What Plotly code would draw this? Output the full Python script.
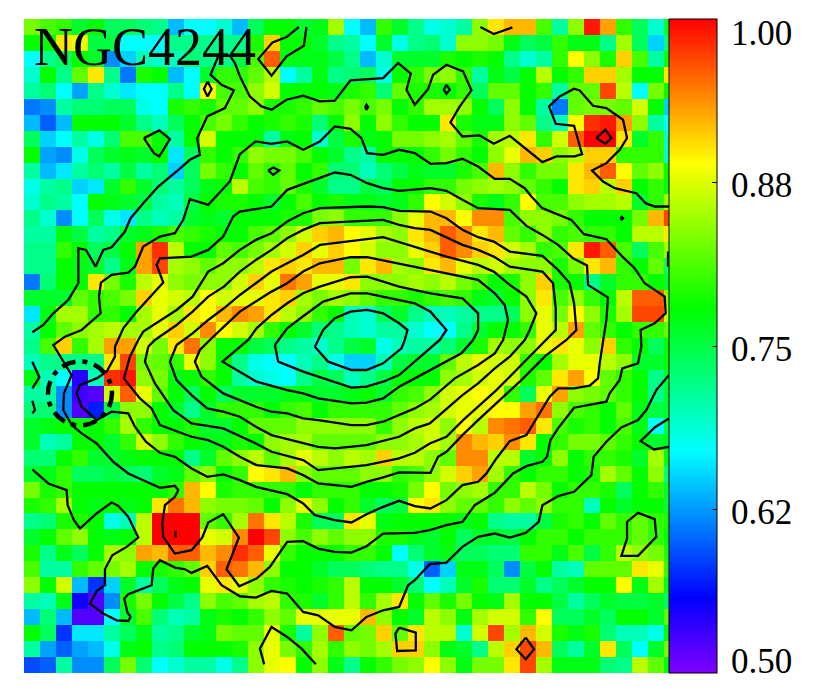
import plotly.graph_objects as go

# Map values in hundredths, row 0 at the top, 41 columns (the last is half cropped)
MAP_ROWS = [
[83,81,80,76,78,74,74,73,72,64,67,67,69,64,74,78,78,76,77,85,67,64,80,76,72,68,69,71,84,90,92,92,81,71,84,99,93,80,74,69,76],
[78,78,90,88,75,75,67,67,67,72,72,72,72,72,79,91,78,78,76,72,71,67,76,68,72,73,69,84,84,83,77,74,75,80,77,77,72,85,74,65,73],
[67,72,74,78,76,62,65,70,69,70,73,72,72,75,81,96,77,77,77,75,72,64,69,76,76,76,79,78,79,78,72,69,71,80,89,84,79,91,81,71,78],
[69,78,72,82,90,72,61,79,78,64,67,76,80,80,82,86,67,71,77,72,73,74,68,78,80,83,84,80,71,77,75,78,86,78,80,91,91,85,78,78,90],
[71,73,67,63,72,69,66,67,67,72,67,89,81,81,84,87,78,78,78,77,79,80,73,82,79,79,78,80,74,82,82,78,80,71,82,82,97,86,67,83,78],
[61,62,71,73,73,74,74,68,67,79,80,79,82,82,84,79,79,80,82,81,83,81,83,78,80,85,85,84,78,74,84,78,71,61,82,83,83,82,87,78,65],
[64,60,64,78,78,78,76,72,70,74,78,81,83,80,78,79,80,79,73,78,84,78,84,80,78,78,90,79,77,77,84,82,72,70,89,98,99,93,84,71,67],
[74,65,67,71,68,73,81,81,78,71,78,87,78,78,78,71,77,78,69,75,79,77,78,83,83,84,85,82,79,85,86,90,80,87,96,100,100,90,76,80,69],
[78,63,62,68,74,76,77,76,78,66,74,80,78,80,84,83,83,81,78,76,72,71,78,78,78,80,83,80,78,84,88,92,91,84,86,91,91,80,80,80,69],
[71,64,66,71,73,71,75,71,73,65,74,83,80,78,82,80,82,78,80,73,73,70,73,75,77,76,76,79,81,92,84,80,83,83,90,92,96,89,82,84,78],
[68,71,72,65,66,76,80,76,73,71,74,77,78,86,81,80,82,79,76,72,72,75,74,78,78,80,80,83,84,85,84,82,80,78,90,91,86,91,78,80,77],
[69,72,71,67,78,77,76,75,71,70,75,78,79,79,78,76,78,81,78,79,77,77,76,77,80,89,87,84,79,77,80,89,81,81,84,85,85,86,76,80,85],
[72,69,62,67,74,68,66,72,70,71,76,77,76,78,78,78,79,79,83,84,80,80,80,84,88,92,92,89,94,94,81,84,84,83,80,78,78,78,83,92,97],
[71,71,77,75,71,72,76,77,79,81,80,79,78,78,81,82,84,87,91,92,89,88,85,84,90,92,96,94,90,92,82,80,84,80,81,80,80,78,86,86,90],
[72,72,80,78,74,75,78,93,98,86,78,78,82,81,83,85,87,91,88,91,89,87,84,84,88,91,96,94,91,90,87,85,80,81,90,99,96,81,74,81,85],
[72,72,78,77,76,72,77,93,97,85,84,82,84,84,86,90,91,90,92,92,83,90,92,85,84,90,92,88,86,87,85,84,84,79,83,90,92,80,78,82,74],
[61,73,78,78,90,83,79,86,88,84,83,84,84,87,91,88,95,93,88,88,90,84,84,84,85,84,86,83,81,78,79,84,91,79,78,72,76,80,80,78,76],
[76,76,76,82,80,81,83,91,88,87,86,89,87,88,88,90,91,85,83,85,84,82,80,80,79,80,81,80,77,76,78,84,90,81,84,80,78,86,96,96,84],
[66,77,85,85,80,80,78,85,88,85,90,89,92,94,93,90,86,84,80,78,70,69,74,76,72,70,70,71,72,72,74,84,88,83,89,84,79,85,97,97,86],
[71,78,82,84,85,86,85,85,88,91,87,94,89,87,85,80,78,76,73,72,70,69,71,71,69,67,67,72,76,78,78,80,88,86,93,82,80,78,80,80,82],
[72,81,91,80,85,93,93,87,83,90,95,84,78,78,75,74,72,71,69,72,75,76,68,70,71,71,73,76,79,85,84,84,88,90,88,84,91,80,78,74,78],
[70,72,72,72,72,90,97,83,82,80,88,84,78,72,68,67,67,70,72,68,65,65,70,75,76,76,82,86,88,87,87,80,78,85,88,88,86,84,76,76,78],
[77,70,67,54,70,98,99,84,83,77,78,80,78,71,69,68,67,72,75,74,70,72,75,78,78,78,84,85,87,88,87,79,82,90,93,89,82,80,78,72,76],
[71,71,62,53,52,87,96,88,82,78,74,78,74,76,76,76,77,77,76,76,77,78,76,80,81,84,87,88,89,88,80,74,88,93,84,83,82,80,78,72,76],
[73,73,62,52,57,75,84,84,78,76,72,76,80,80,80,78,80,81,78,80,80,80,80,82,84,85,87,88,88,89,89,93,95,84,81,80,78,82,77,75,76],
[76,77,78,78,78,80,85,80,78,78,79,76,76,78,82,82,82,84,84,84,84,84,80,84,86,87,84,89,86,94,95,96,90,81,79,80,78,81,77,67,75],
[76,70,71,78,78,76,80,87,84,80,78,77,77,79,78,84,85,85,82,82,82,82,84,84,85,87,85,94,92,91,94,90,78,80,83,83,82,80,78,76,77],
[73,73,78,80,76,76,77,78,78,78,72,76,82,84,86,82,85,88,86,84,86,85,91,86,86,84,82,94,94,86,86,76,78,84,78,80,80,79,76,85,77],
[76,77,80,74,74,75,74,73,76,77,82,84,78,80,89,90,92,84,82,82,82,84,84,80,81,84,87,91,93,85,80,78,80,80,78,79,85,82,78,84,73],
[83,79,80,78,78,78,78,78,78,80,92,89,79,80,80,80,80,78,80,80,80,78,78,79,83,89,83,84,85,80,80,86,83,78,80,80,79,74,78,80,76],
[79,80,85,78,77,78,77,78,90,95,92,84,83,83,82,78,84,88,84,78,80,76,74,75,89,90,84,82,82,80,84,82,84,80,80,70,78,76,78,78,76],
[72,73,79,79,78,68,70,86,100,100,100,82,80,85,95,90,86,79,74,74,90,88,77,78,78,78,78,77,78,72,71,71,75,79,80,78,82,80,82,80,79],
[76,78,82,84,78,77,78,86,100,100,100,88,87,94,100,97,84,81,84,82,84,84,79,79,77,76,78,74,76,76,75,78,80,80,78,80,80,80,82,80,78],
[79,72,77,74,78,85,84,93,92,96,96,92,94,98,96,88,80,78,78,78,80,80,78,67,73,76,77,74,74,73,73,80,80,77,81,75,80,86,84,83,79],
[81,71,71,80,82,83,85,78,79,80,82,91,96,95,92,84,78,78,76,74,74,73,72,72,68,60,65,77,77,74,62,75,78,71,70,82,82,82,90,88,80],
[84,78,87,64,58,65,76,71,74,77,78,88,90,88,84,80,79,78,79,80,86,78,78,76,73,67,70,76,79,73,73,76,72,74,76,78,78,89,77,85,77],
[71,70,77,55,52,62,79,83,78,75,72,84,81,82,85,86,80,79,76,80,86,80,85,90,78,82,79,83,78,77,85,78,78,75,71,74,76,75,75,76,74],
[64,73,64,52,52,67,76,81,73,70,71,77,79,78,80,84,82,88,88,88,88,92,84,78,76,86,84,77,85,87,87,80,89,74,74,76,74,78,78,76,82],
[78,74,58,66,66,71,74,77,71,72,76,77,83,82,82,88,79,71,84,96,82,83,91,82,90,86,86,69,87,97,85,92,87,79,77,79,73,70,70,68,78],
[71,63,60,63,64,68,77,78,72,73,78,78,78,79,84,88,83,80,85,80,84,83,85,91,91,84,77,76,72,86,91,97,92,74,71,76,90,74,67,76,83],
[59,60,71,62,62,74,83,73,67,69,71,71,68,72,84,88,89,78,84,77,72,78,80,83,84,89,84,77,83,83,90,97,85,77,77,77,73,72,86,82,78],
]
assert all(len(r) == 41 for r in MAP_ROWS) and len(MAP_ROWS) == 41

COLORBAR_TICKS = [0.625, 0.75, 0.875]
COLORBAR_LABELS = ["0.62", "0.75", "0.88"]
END_LABELS = ["0.50", "1.00"]
NAME = "NGC4244"

# Isophotes in map units. Each crop frame (A top-left, B top-right, C bottom-left, D bottom-right)
PANEL = {"A": (0, 0), "B": (1020, 0), "C": (0, 1020), "D": (1020, 1020)}
def P(panel, pts):
    dx, dy = PANEL[panel]
    return [(x + dx, y + dy) for x, y in pts]

ISO_A = P("A", [(97,997),(130,975),(160,940),(205,900),(235,850),(235,745),(258,750),(287,800),(310,750),(335,742),(375,695),(392,655),(430,610),(475,560),(530,515),(570,480),(600,465),(592,415),(622,350),(675,325),(702,272),(665,255),(632,225),(655,170),(690,168),(705,190),(720,230),(750,290),(785,320),(815,330),(860,300),(910,288),(960,305),(1005,303)]) + \
  P("B", [(32,242),(130,235),(175,190),(213,222),(200,270),(225,315),(265,268),(280,225),(320,195),(370,215),(395,272),(360,320),(332,368),(368,410),(420,407),(462,432),(510,408),(608,487),(650,470),(705,470),(727,463),(703,378),(648,372),(628,320),(660,290),(703,267),(720,272),(760,318),(800,325),(850,360),(862,415),(840,450),(800,490),(757,512),(790,545),(825,565),(890,580),(918,610),(945,620),(988,620)])
ISO_A_LOW = P("C", [(97,388),(145,430),(200,450),(203,495),(222,540),(240,565),(290,520),(335,487),(355,497),(385,530),(415,592),(380,620),(337,645),(315,687),(315,735),(290,752),(270,790),(310,820),(350,840),(385,842),(392,830),(382,815),(373,775),(385,762),(455,735),(460,685),(480,660),(525,682),(555,687),(575,698),(622,677),(665,735),(720,768),(768,772),(815,752),(862,760),(910,815),(955,825),(1005,860)]) + \
  P("D", [(35,870),(80,830),(130,810),(178,800),(205,735),(225,720),(270,672),(320,667),(368,620),(415,590),(465,580),(510,592),(558,578),(597,545),(608,495),(655,468),(703,455),(755,405),(762,350),(800,305),(845,262),(895,240),(920,210),(950,150),(988,105)])
ISO_B = P("C", [(162,18),(215,105),(192,160),(190,210),(215,255),(245,280),(290,310),(340,365),(385,400),(480,443),(525,437),(535,450),(525,470),(495,495),(487,550),(490,590),(525,640),(575,630),(607,592),(625,547),(670,522),(717,592),(680,687),(718,738),(770,715),(810,680),(862,605),(910,603),(955,625),(1005,635)]) + \
  P("D", [(35,637),(80,618),(130,580),(225,578),(270,570),(320,555),(368,545),(405,495),(465,458),(520,400),(560,378),(608,365),(622,350),(632,300),(655,265),(703,203),(800,185),(810,160),(840,120),(848,85),(895,70),(905,20)]) + \
  P("B", [(903,990),(945,970),(978,940),(975,890),(915,850),(885,805),(848,770),(800,718),(733,703),(695,660),(608,625),(575,590),(555,565),(510,537),(465,537),(415,500),(368,477),(320,490),(272,492),(225,460),(178,450),(130,465),(82,460),(65,415),(32,387)]) + \
  P("A", [(1005,380),(960,425),(910,450),(862,425),(815,432),(767,425),(720,463),(690,545),(625,615),(570,598),(550,660),(525,700),(480,710),(430,740),(405,800),(385,818),(335,825),(303,848),(297,890),(302,940),(245,990),(195,1010),(160,1035)])
ISO_C = P("A", [(345,1040),(370,985),(410,935),(490,848),(470,795),(480,775),(575,770),(625,750),(670,710),(700,650),(720,635),(815,620),(862,570),(1005,518)]) + \
  P("B", [(32,525),(82,550),(130,565),(178,573),(272,565),(320,573),(368,600),(415,625),(510,630),(560,678),(608,705),(655,735),(700,775),(742,797),(745,855),(805,893),(800,960),(790,1020)]) + \
  P("D", [(780,70),(775,115),(750,137),(703,145),(655,145),(630,170),(608,205),(560,285),(510,303),(470,355),(440,400),(415,425),(368,435),(320,480),(272,505),(225,498),(178,482),(130,500),(80,522),(35,547)]) + \
  P("C", [(1005,540),(945,525),(910,490),(862,462),(768,440),(720,420),(670,403),(622,410),(575,385),(525,350),(480,338),(438,305),(405,260),(385,220),(335,215),(290,240),(245,200),(230,160),(240,135),(290,115),(320,95),(345,50),(345,20)])
ISO_D = P("C", [(415,0),(390,50),(372,115),(420,175),(455,205),(480,255),(575,290),(625,300),(670,320),(720,350),(770,375),(815,380),(862,385),(910,405),(955,430)]) + \
  P("D", [(35,440),(80,425),(130,412),(178,397),(272,398),(295,350),(320,335),(368,285),(415,240),(465,195),(510,155),(540,125),(580,85),(620,45),(680,0)]) + \
  P("B", [(710,990),(703,910),(690,850),(655,810),(608,768),(510,755),(462,725),(415,712),(368,690),(320,655),(272,635),(178,633),(130,622),(82,620)]) + \
  P("A", [(960,625),(910,640),(862,665),(815,700),(768,720),(720,750),(670,790),(625,815),(578,890),(530,930),(485,960),(430,995),(415,1020)])
ISO_E = P("C", [(445,20),(435,65),(465,130),(520,210),(575,250),(670,265),(768,310),(815,335),(910,360),(955,390)]) + \
  P("D", [(80,375),(178,355),(225,338),(270,310),(320,290),(370,240),(415,200),(465,155),(510,110),(560,60),(610,10)]) + \
  P("B", [(648,990),(648,925),(640,850),(608,815),(510,800),(462,770),(415,750),(368,735),(320,712),(272,690),(225,685),(178,675),(130,660)]) + \
  P("A", [(960,670),(910,690),(862,715),(815,750),(768,780),(720,815),(672,860),(625,890),(578,935),(530,975),(465,1020),(445,1040)])
ISO_F = P("C", [(530,15),(510,65),(530,120),(575,165),(622,205),(670,215),(720,230),(768,260),(815,285),(910,310),(955,320),(1005,325)]) + \
  P("D", [(80,315),(178,290),(225,265),(270,250),(368,165),(415,130),(465,85),(510,50),(555,0)]) + \
  P("B", [(570,990),(590,940),(560,890),(510,855),(462,815),(415,795),(320,770),(272,755),(225,740),(130,712)]) + \
  P("A", [(960,735),(910,765),(862,790),(815,815),(768,850),(720,885),(672,925),(625,960),(578,1000),(530,1035)])
ISO_G = P("C", [(630,0),(600,30),(585,65),(605,110),(670,160),(720,180),(768,200),(815,215),(862,220),(910,235),(955,240)]) + \
  P("D", [(35,255),(80,255),(130,245),(225,205),(272,178),(345,115),(415,75),(465,40),(490,0)]) + \
  P("B", [(505,960),(495,915),(465,880),(415,840),(320,820),(225,800),(178,790),(82,772),(32,772)]) + \
  P("A", [(960,790),(910,815),(862,850),(815,875),(768,905),(720,935),(672,980),(630,1020)])
ISO_H = P("C", [(745,0),(668,65),(770,125),(862,150),(910,160),(955,175)]) + \
  P("D", [(35,190),(80,188),(130,175),(178,140),(225,115),(320,65),(365,40),(400,0)]) + \
  P("B", [(415,990),(415,940),(368,895),(272,880),(178,860),(130,845),(82,830),(32,832)]) + \
  P("A", [(960,860),(910,880),(862,910),(815,945),(770,985),(745,1020)])
ISO_I = P("C", [(825,15),(835,65),(910,95),(1005,125)]) + \
  P("D", [(35,143),(80,140),(130,125),(178,105),(225,65),(270,25),(300,0)]) + \
  P("B", [(320,990),(272,935),(225,910),(130,890),(82,880),(32,880)]) + \
  P("A", [(970,905),(915,945),(862,985),(825,1035)])
ISO_J = P("C", [(945,20),(985,65)]) + \
  P("D", [(35,90),(80,90),(130,70),(185,25),(195,0)]) + \
  P("B", [(203,990),(178,970),(130,940),(82,930),(32,935)]) + \
  P("A", [(1005,955),(970,990),(945,1040)])
ISO_TOP1 = P("A", [(897,82),(860,112),(818,128),(775,178),(815,228),(860,170),(912,138),(920,82)])
ISO_TOP2 = P("B", [(422,82),(462,103),(518,83)])
LOOP_1 = P("A", [(623,245),(635,268),(623,290),(612,268)])
LOOP_2 = P("A", [(432,415),(478,392),(510,418),(478,470),(462,460)])
LOOP_3 = P("A", [(805,512),(820,503),(838,512),(820,525)])
LOOP_4 = P("B", [(320,255),(330,270),(320,282),(312,270)])
LOOP_5 = P("B", [(76,322),(80,315),(85,322),(80,330)])
LOOP_6 = P("B", [(770,415),(797,390),(815,415),(797,432)])
LOOP_7 = P("D", [(862,545),(895,518),(945,537),(950,590),(895,647),(845,647),(862,595)])
LOOP_8 = P("D", [(178,862),(228,877),(228,930),(172,932),(167,880)])
LOOP_9 = P("D", [(558,892),(583,927),(558,957),(530,927)])
LOOP_10 = P("B", [(842,655),(846,651),(850,655),(846,659)])
OPEN_1 = P("B", [(985,755),(985,800)])
OPEN_2 = P("D", [(988,235),(945,262),(903,303),(943,328),(988,320)])
OPEN_3 = P("C", [(527,572),(527,592)])
OPEN_4 = P("C", [(793,972),(780,925),(815,860),(862,890),(905,925),(948,972)])
OPEN_5 = P("C", [(97,65),(118,112),(97,145)])
OPEN_6 = P("C", [(97,182),(105,210),(97,220)])

CLOSED = [ISO_B, ISO_C, ISO_D, ISO_E, ISO_F, ISO_G, ISO_H, ISO_I, ISO_J,
          LOOP_1, LOOP_2, LOOP_3, LOOP_4, LOOP_5, LOOP_6, LOOP_7, LOOP_8, LOOP_9, LOOP_10]
OPEN = [ISO_A, ISO_A_LOW, ISO_TOP1, ISO_TOP2, OPEN_1, OPEN_2, OPEN_3, OPEN_4, OPEN_5, OPEN_6]

SCALE = [[0, "#7f00ff"], [0.115, "#0000ff"], [0.34, "#00ffff"], [0.557, "#00ff00"], [0.78, "#ffff00"], [1, "#ff0000"]]

fig = go.Figure()
fig.add_trace(go.Heatmap(
    z=[[v / 100 for v in row] for row in MAP_ROWS],
    x0=96, dx=48, y0=58 + 23.9, dy=47.8,
    zmin=0.5, zmax=1.0, colorscale=SCALE, hoverinfo="skip",
    colorbar=dict(
        x=1.0, xanchor="left", xpad=0, y=0.5, yanchor="middle", ypad=0, len=1, lenmode="fraction",
        thickness=48, thicknessmode="pixels", outlinecolor="black", outlinewidth=1,
        tickmode="array", tickvals=COLORBAR_TICKS, ticks="inside", ticklen=5,
        tickcolor="black", showticklabels=False,
    ),
))
for pts, closed in [(p, True) for p in CLOSED] + [(p, False) for p in OPEN]:
    line_pts = pts + [pts[0]] if closed else pts
    fig.add_trace(go.Scatter(x=[p[0] for p in line_pts], y=[p[1] for p in line_pts], mode="lines",
                             line=dict(color="black", width=2.3), hoverinfo="skip", showlegend=False))

fig.add_shape(type="circle", xref="x", yref="y", x0=144, x1=336, y0=1084, y1=1276,
              line=dict(color="black", width=4.5, dash="14px,7px,5px,7px"))
for v in COLORBAR_TICKS:
    fig.add_shape(type="line", xref="paper", yref="paper", x0=1.0, x1=1.008, y0=(v - 0.5) / 0.5, y1=(v - 0.5) / 0.5,
                  line=dict(color="black", width=1))

fig.add_annotation(text=NAME, xref="x", yref="y", x=99, y=141, xanchor="left", yanchor="middle", showarrow=False,
                   borderpad=0, font=dict(family="Liberation Serif", size=54, color="black"))
TICK_FONT = dict(family="Liberation Serif", size=35, color="black")
for label, v in zip(COLORBAR_LABELS, COLORBAR_TICKS):
    fig.add_annotation(text=label, xref="paper", yref="paper", x=1.094, y=(v - 0.5) / 0.5, yshift=-3,
                       xanchor="left", yanchor="middle", showarrow=False, borderpad=0, font=TICK_FONT)
for label, yfrac in zip(END_LABELS, [0.018, 0.978]):
    fig.add_annotation(text=label, xref="paper", yref="paper", x=1.094, y=yfrac, xanchor="left", yanchor="middle",
                       showarrow=False, borderpad=0, font=TICK_FONT)

fig.update_xaxes(range=[72, 2008], visible=False)
fig.update_yaxes(range=[2018, 58], visible=False)
fig.update_layout(width=830, height=692, margin=dict(l=24, r=161, t=19, b=19), autosize=False,
                  paper_bgcolor="white", plot_bgcolor="white", showlegend=False)
fig.write_html("out.html", config={"displayModeBar": False},
               post_script="document.body.style.margin='0';document.body.style.overflow='hidden';")
